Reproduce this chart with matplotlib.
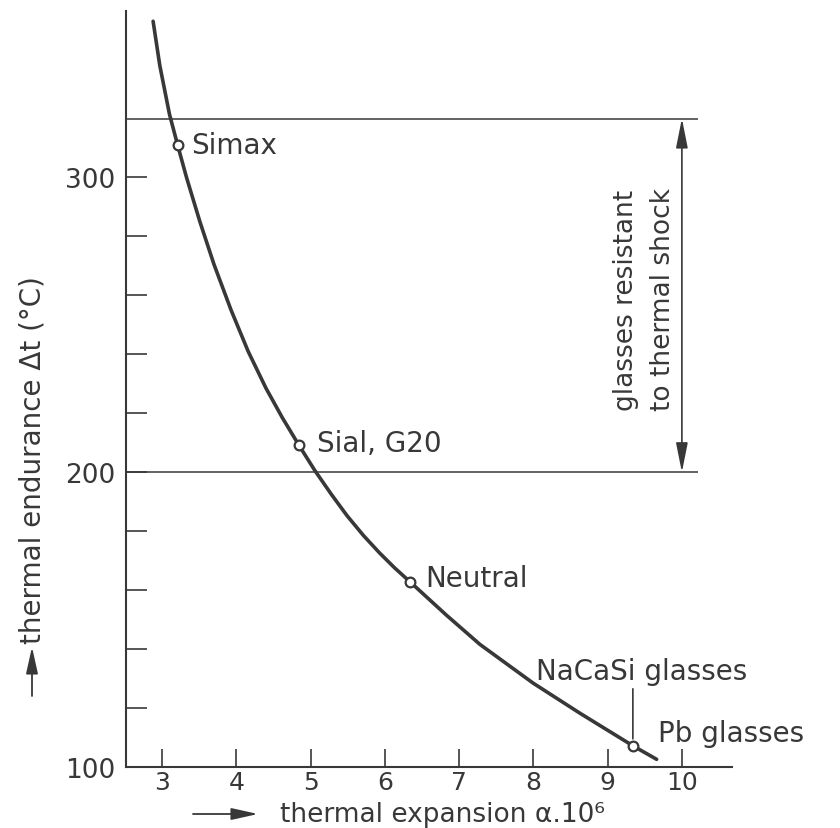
import matplotlib.pyplot as plt
from matplotlib.ticker import FixedLocator

# thermal endurance curve, values taken along the drawn line
expansion = [2.88, 2.97, 3.10, 3.21, 3.33, 3.51, 3.70, 3.93, 4.16, 4.40, 4.62,
             4.84, 5.06, 5.28, 5.49, 5.71, 5.93, 6.13, 6.34, 6.83, 7.28, 8.00,
             8.63, 9.34, 9.66]
endurance = [353, 338, 321.5, 311, 300, 285, 270.5, 255, 241, 228.5, 218.5,
             209.3, 200.5, 192.5, 185.3, 178.6, 172.6, 167.6, 162.8, 151.5,
             141.6, 128.4, 118.2, 107.2, 102.6]

# marked glass types on the curve
glass_names = ['Simax', 'Sial, G20', 'Neutral', 'Pb glasses']
glass_x = [3.21, 4.84, 6.34, 9.34]
glass_y = [311, 209.3, 162.8, 107.2]
label_offsets = [(10, 0), (13, 1), (11, 3), (18, 9)]

resistant_range = [200, 320]
x_ticks = [3, 4, 5, 6, 7, 8, 9, 10]
y_major = [100, 200, 300]
y_minor = [120, 140, 160, 180, 220, 240, 260, 280]

ink = '#383838'
plt.rcParams['font.family'] = 'DejaVu Sans'
plt.rcParams['text.color'] = ink

fig = plt.figure(figsize=(8.4, 8.29), dpi=100)
ax = fig.add_axes([0.15, 0.0736, 0.721, 0.912])
ax.set_xlim(2.515, 10.67)
ax.set_ylim(100, 356.5)

for side in ['top', 'right']:
    ax.spines[side].set_visible(False)
for side in ['left', 'bottom']:
    ax.spines[side].set_color(ink)
    ax.spines[side].set_linewidth(1.5)

ax.xaxis.set_major_locator(FixedLocator(x_ticks))
ax.yaxis.set_major_locator(FixedLocator(y_major))
ax.yaxis.set_minor_locator(FixedLocator(y_minor))
ax.tick_params(axis='x', direction='in', length=13, width=1.2, colors=ink,
               labelsize=18, pad=2)
ax.tick_params(axis='y', which='both', direction='in', length=15, width=1.2,
               colors=ink, labelsize=19, pad=8)

# band of shock resistant glasses
ax.hlines(resistant_range, 2.515, 10.22, color=ink, lw=1.1)
ax.annotate('', xy=(10.0, resistant_range[1]), xytext=(10.0, resistant_range[0]),
            arrowprops=dict(arrowstyle='<|-|>,head_length=0.9,head_width=0.18',
                            mutation_scale=20, color=ink, lw=1.2,
                            shrinkA=0, shrinkB=0))
ax.text(9.5, 221, 'glasses resistant\nto thermal shock', rotation=90,
        ha='center', va='bottom', multialignment='left', linespacing=1.55,
        fontsize=19)

ax.plot(expansion, endurance, color=ink, lw=2.6, solid_capstyle='round')
ax.plot(glass_x, glass_y, 'o', ms=7, mfc='white', mec=ink, mew=1.6)

for name, gx, gy, off in zip(glass_names, glass_x, glass_y, label_offsets):
    ax.annotate(name, xy=(gx, gy), xytext=off, textcoords='offset points',
                ha='left', va='center', fontsize=20, annotation_clip=False)

# leader for the soda-lime glasses
ax.annotate('', xy=(glass_x[-1], glass_y[-1]), xytext=(0, 41),
            textcoords='offset points',
            arrowprops=dict(arrowstyle='-', color=ink, lw=1.2,
                            shrinkA=0, shrinkB=5))
ax.annotate('NaCaSi glasses', xy=(glass_x[-1], glass_y[-1]), xytext=(-70, 54),
            textcoords='offset points', ha='left', va='center', fontsize=20)

# axis titles with their arrows
fig.text(33 / 840, 1 - 460 / 829, 'thermal endurance \u0394t (\u00b0C)',
         rotation=90, ha='center', va='center', fontsize=20)
fig.text(280 / 840, 1 / 829, 'thermal expansion \u03b1.10\u2076',
         ha='left', va='bottom', fontsize=19)
arrow = dict(arrowstyle='-|>,head_length=0.9,head_width=0.2', mutation_scale=18,
             color=ink, lw=1.3, shrinkA=0, shrinkB=0)
ax.annotate('', xy=(32, 829 - 648), xytext=(32, 829 - 697),
            xycoords='figure pixels', textcoords='figure pixels', arrowprops=arrow)
ax.annotate('', xy=(258, 829 - 815), xytext=(193, 829 - 815),
            xycoords='figure pixels', textcoords='figure pixels', arrowprops=arrow)

fig.savefig('out.png', dpi=100, facecolor='white')
